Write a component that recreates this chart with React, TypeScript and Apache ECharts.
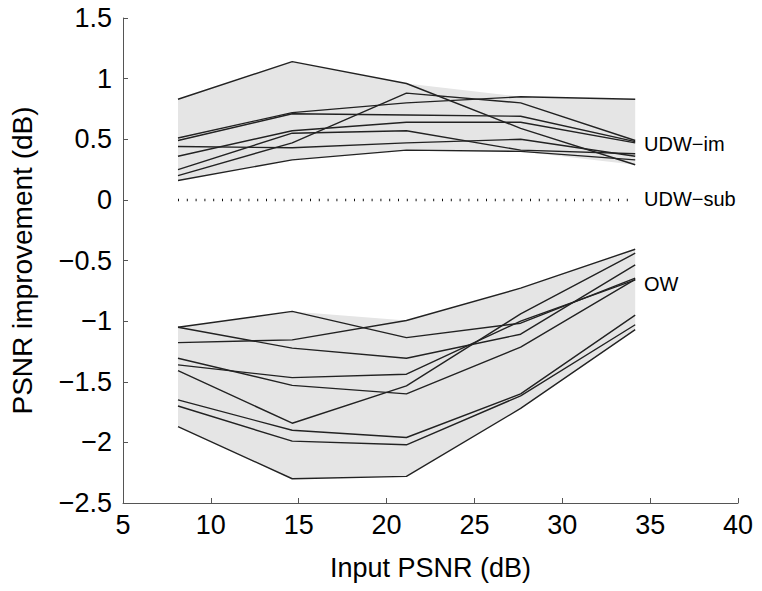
import React, { useEffect, useRef } from "react";
import * as echarts from "echarts";

// Input PSNR values (x positions of the measurements)
const inputPsnr = [8.13, 14.63, 21.13, 27.63, 34.15];

// UDW-im curves (PSNR improvement, dB)
const udwIm1 = [0.83, 1.14, 0.96, 0.59, 0.29];
const udwIm2 = [0.51, 0.72, 0.8, 0.85, 0.83];
const udwIm3 = [0.49, 0.71, 0.7, 0.69, 0.48];
const udwIm4 = [0.44, 0.43, 0.47, 0.5, 0.36];
const udwIm5 = [0.36, 0.57, 0.64, 0.64, 0.47];
const udwIm6 = [0.2, 0.47, 0.88, 0.8, 0.49];
const udwIm7 = [0.25, 0.55, 0.57, 0.41, 0.38];
const udwIm8 = [0.16, 0.33, 0.41, 0.4, 0.33];

// UDW-sub reference (zero line)
const udwSub = [0, 0, 0, 0, 0];

// OW curves
const ow1 = [-1.05, -0.92, -1.136, -1.017, -0.646];
const ow2 = [-1.177, -1.155, -0.995, -0.728, -0.407];
const ow3 = [-1.05, -1.223, -1.306, -1.108, -0.536];
const ow4 = [-1.361, -1.466, -1.438, -1.0, -0.66];
const ow5 = [-1.306, -1.53, -1.6, -1.215, -0.655];
const ow6 = [-1.408, -1.842, -1.534, -0.94, -0.44];
const ow7 = [-1.65, -1.9, -1.96, -1.6, -0.95];
const ow8 = [-1.7, -1.99, -2.02, -1.616, -1.03];
const ow9 = [-1.87, -2.3, -2.28, -1.72, -1.07];

const udwImLines = [udwIm1, udwIm2, udwIm3, udwIm4, udwIm5, udwIm6, udwIm7, udwIm8];
const owLines = [ow1, ow2, ow3, ow4, ow5, ow6, ow7, ow8, ow9];

// Axis ranges
const xMin = 5, xMax = 40, xStep = 5;
const yMin = -2.5, yMax = 1.5, yStep = 0.5;

const curveLabels = ["UDW\u2212im", "UDW\u2212sub", "OW"];

const FONT = "'Liberation Sans', Arial, Helvetica, sans-serif";
const LINE_COLOR = "#222";
const FILL = "#e5e5e5";

function envelope(lines: number[][]) {
  const lower = inputPsnr.map((_, i) => Math.min(...lines.map((l) => l[i])));
  const upper = inputPsnr.map((_, i) => Math.max(...lines.map((l) => l[i])));
  return { lower, upper };
}

function bandSeries(name: string, lines: number[][]) {
  const { lower, upper } = envelope(lines);
  return {
    type: "custom",
    name: name + "-band",
    silent: true,
    z: 1,
    data: [[inputPsnr[0], lower[0]]],
    encode: { x: 0, y: 1 },
    renderItem: (_params: any, api: any) => {
      const pts: number[][] = [];
      inputPsnr.forEach((x, i) => pts.push(api.coord([x, upper[i]])));
      for (let i = inputPsnr.length - 1; i >= 0; i--) pts.push(api.coord([inputPsnr[i], lower[i]]));
      return {
        type: "polygon",
        shape: { points: pts },
        style: { fill: FILL, stroke: "none" },
      };
    },
  };
}

function lineSeries(lines: number[][], prefix: string) {
  return lines.map((l, k) => ({
    type: "line",
    name: prefix + k,
    data: inputPsnr.map((x, i) => [x, l[i]]),
    symbol: "none",
    lineStyle: { color: LINE_COLOR, width: 1.4 },
    z: 3,
  }));
}

export default function App() {
  const ref = useRef<HTMLDivElement>(null);
  useEffect(() => {
    if (!ref.current) return;
    const chart = echarts.init(ref.current, undefined, { renderer: "svg" });
    const axisLabelStyle = { color: "#000", fontSize: 27, fontFamily: FONT };
    chart.setOption({
      animation: false,
      backgroundColor: "#fff",
      grid: { left: 121, right: 24, top: 18, bottom: 88, containLabel: false },
      xAxis: {
        type: "value",
        min: xMin,
        max: xMax,
        interval: xStep,
        name: "Input PSNR (dB)",
        nameLocation: "middle",
        nameGap: 51,
        nameTextStyle: { color: "#000", fontSize: 27, fontFamily: FONT },
        axisLine: { onZero: false, lineStyle: { color: "#555", width: 1 } },
        axisTick: { inside: true, length: 5, lineStyle: { color: "#555" } },
        axisLabel: { ...axisLabelStyle, margin: 8 },
        splitLine: { show: false },
      },
      yAxis: {
        type: "value",
        min: yMin,
        max: yMax,
        interval: yStep,
        name: "PSNR improvement (dB)",
        nameLocation: "middle",
        nameGap: 87,
        nameRotate: 90,
        nameTextStyle: { color: "#000", fontSize: 28, fontFamily: FONT },
        axisLine: { show: true, onZero: false, lineStyle: { color: "#555", width: 1 } },
        axisTick: { show: true, inside: true, length: 5, lineStyle: { color: "#555" } },
        axisLabel: {
          ...axisLabelStyle,
          margin: 11,
          formatter: (v: number) => (v < 0 ? "\u2212" + Math.abs(v) : String(v)),
        },
        splitLine: { show: false },
      },
      series: [
        bandSeries("udw", udwImLines),
        bandSeries("ow", owLines),
        ...lineSeries(udwImLines, "udwIm"),
        ...lineSeries(owLines, "ow"),
        {
          type: "line",
          name: "udwSub",
          data: inputPsnr.map((x, i) => [x, udwSub[i]]),
          symbol: "none",
          lineStyle: { color: "#111", width: 2.5, type: [1, 7.8] },
          z: 3,
        },
      ],
      graphic: [
        { type: "text", left: 644, top: 134, style: { text: curveLabels[0], fill: "#000", font: `20px ${FONT}` } },
        { type: "text", left: 644, top: 189, style: { text: curveLabels[1], fill: "#000", font: `20px ${FONT}` } },
        { type: "text", left: 644, top: 274, style: { text: curveLabels[2], fill: "#000", font: `20px ${FONT}` } },
      ],
    });
    return () => chart.dispose();
  }, []);
  return (
    <div
      ref={ref}
      style={{ position: "fixed", left: 0, top: 0, width: 762, height: 591, background: "#fff" }}
    />
  );
}
